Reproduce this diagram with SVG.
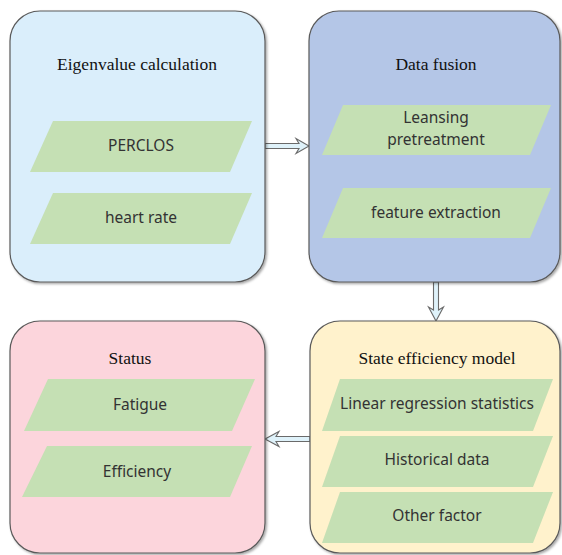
<svg xmlns="http://www.w3.org/2000/svg" width="562" height="555" viewBox="0 0 562 555">
  <defs>
    <filter id="shadow" x="-5%" y="-5%" width="115%" height="115%">
      <feDropShadow dx="1.5" dy="1.5" stdDeviation="1" flood-color="#000" flood-opacity="0.35"/>
    </filter>
    <style>
      .panel { stroke: #5a5a5a; stroke-width: 1.2; filter: url(#shadow); }
      .step { fill: #c5e0b4; }
      .title { font-family: "Liberation Serif", "Times New Roman", serif; font-size: 17.5px; fill: #111111; text-anchor: middle; }
      .label { font-family: "Noto Sans", "Open Sans", sans-serif; font-size: 15.5px; fill: #333333; text-anchor: middle; }
      .arrow { fill: #dff2fa; stroke: #6a6a6a; stroke-width: 1.1; stroke-linejoin: miter; }
    </style>
  </defs>
  <rect width="562" height="555" fill="#ffffff"/>

  <g id="connectors">
    <!-- Eigenvalue calculation -> Data fusion -->
    <path class="arrow" d="M265,143.5 L299,143.5 L296,138.5 L309,146 L296,153.5 L299,148.5 L265,148.5 Z"/>
    <!-- Data fusion -> State efficiency model -->
    <path class="arrow" d="M433.5,282 L433.5,310 L428.5,307 L436,321 L443.5,307 L438.5,310 L438.5,282 Z"/>
    <!-- State efficiency model -> Status -->
    <path class="arrow" d="M310,436.5 L276,436.5 L279,431.5 L265,439 L279,446.5 L276,441.5 L310,441.5 Z"/>
  </g>

  <g id="eigenvalue">
    <rect class="panel" x="10" y="11" width="255" height="271" rx="30" fill="#daeefb"/>
    <text class="title" x="137" y="70">Eigenvalue calculation</text>
    <polygon class="step" points="53,121 252,121 230,172 30,172"/>
    <text class="label" x="141" y="151">PERCLOS</text>
    <polygon class="step" points="53,193 252,193 230,244 30,244"/>
    <text class="label" x="141" y="223">heart rate</text>
  </g>

  <g id="fusion">
    <rect class="panel" x="309" y="11" width="251" height="271" rx="30" fill="#b4c6e7"/>
    <text class="title" x="436" y="70">Data fusion</text>
    <polygon class="step" points="343,105 551,105 530,155 322,155"/>
    <text class="label" x="436" y="123">Leansing</text>
    <text class="label" x="436" y="145">pretreatment</text>
    <polygon class="step" points="343,188 551,188 530,238 322,238"/>
    <text class="label" x="436" y="218">feature extraction</text>
  </g>

  <g id="status">
    <rect class="panel" x="10" y="321" width="255" height="232" rx="30" fill="#fcd5dc"/>
    <text class="title" x="130" y="364">Status</text>
    <polygon class="step" points="48,379 255,379 232,431 24,431"/>
    <text class="label" x="140" y="410">Fatigue</text>
    <polygon class="step" points="47,446 252,446 230,497 22,497"/>
    <text class="label" x="137" y="477">Efficiency</text>
  </g>

  <g id="model">
    <rect class="panel" x="310" y="321" width="250" height="232" rx="30" fill="#fff2cc"/>
    <text class="title" x="437" y="364">State efficiency model</text>
    <polygon class="step" points="340,379 553,379 533,431 322,431"/>
    <text class="label" x="437" y="409">Linear regression statistics</text>
    <polygon class="step" points="340,436 553,436 533,487 322,487"/>
    <text class="label" x="437" y="465">Historical data</text>
    <polygon class="step" points="340,492 553,492 533,543 322,543"/>
    <text class="label" x="437" y="521">Other factor</text>
  </g>
</svg>
